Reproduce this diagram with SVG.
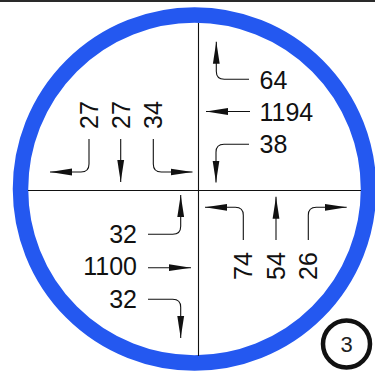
<svg xmlns="http://www.w3.org/2000/svg" width="375" height="372" viewBox="0 0 375 372">
<style>
.lbl{font-family:"Liberation Sans",Arial,sans-serif;font-size:25px;fill:#111}
.arr{fill:none;stroke:#111;stroke-width:1.1}
.axis{stroke:#111;stroke-width:1.1}
</style>
<defs>
<marker id="ah" markerUnits="userSpaceOnUse" markerWidth="23" markerHeight="8" refX="22" refY="4" orient="auto" viewBox="0 0 23 8">
<path d="M0,0.6 L22,4 L0,7.4 z" fill="#111"/>
</marker>
</defs>
<rect x="0" y="0" width="375" height="2" fill="#2a2a2a"/>
<g id="ring">
<circle cx="194.5" cy="189" r="174" fill="none" stroke="#2458f0" stroke-width="15.5"/>
</g>
<g id="axes">
<line class="axis" x1="198.5" y1="23" x2="198.5" y2="356"/>
<line class="axis" x1="28" y1="190.5" x2="361" y2="190.5"/>
</g>
<g id="north-labels">
<text class="lbl" transform="translate(98,129) rotate(-90)">27</text>
<text class="lbl" transform="translate(129.5,129) rotate(-90)">27</text>
<text class="lbl" transform="translate(162,129) rotate(-90)">34</text>
</g>
<g id="east-labels">
<text class="lbl" x="259.5" y="89">64</text>
<text class="lbl" x="259.5" y="121">1194</text>
<text class="lbl" x="259.5" y="153">38</text>
</g>
<g id="west-labels">
<text class="lbl" x="137" y="243" text-anchor="end">32</text>
<text class="lbl" x="137" y="275" text-anchor="end">1100</text>
<text class="lbl" x="137" y="308" text-anchor="end">32</text>
</g>
<g id="south-labels">
<text class="lbl" transform="translate(252,280) rotate(-90)">74</text>
<text class="lbl" transform="translate(284.5,280) rotate(-90)">54</text>
<text class="lbl" transform="translate(317,280) rotate(-90)">26</text>
</g>
<g id="connectors">
<path class="arr" marker-end="url(#ah)" d="M89,139 V164 Q89,172 81,172 H50"/>
<path class="arr" marker-end="url(#ah)" d="M120.7,139 V182"/>
<path class="arr" marker-end="url(#ah)" d="M153.3,139 V164 Q153.3,172 161.3,172 H192.5"/>
<path class="arr" marker-end="url(#ah)" d="M249,79.3 H224.3 Q216.3,79.3 216.3,71.3 V41.7"/>
<path class="arr" marker-end="url(#ah)" d="M250,111.5 H206"/>
<path class="arr" marker-end="url(#ah)" d="M249,144.3 H224 Q216,144.3 216,152.3 V182.5"/>
<path class="arr" marker-end="url(#ah)" d="M148,234.3 H172.7 Q180.7,234.3 180.7,226.3 V195"/>
<path class="arr" marker-end="url(#ah)" d="M148,267.7 H191"/>
<path class="arr" marker-end="url(#ah)" d="M148,299.3 H172.7 Q180.7,299.3 180.7,307.3 V338"/>
<path class="arr" marker-end="url(#ah)" d="M243.3,240 V215.3 Q243.3,207.3 235.3,207.3 H205"/>
<path class="arr" marker-end="url(#ah)" d="M276,240 V196.7"/>
<path class="arr" marker-end="url(#ah)" d="M308.3,240 V215.3 Q308.3,207.3 316.3,207.3 H346.7"/>
</g>
<g id="badge">
<circle cx="346.5" cy="344" r="23.5" fill="#fff" stroke="#111" stroke-width="4.5"/>
<text x="346.5" y="352" text-anchor="middle" font-family="Liberation Sans,Arial,sans-serif" font-size="22" fill="#222">3</text>
</g>
</svg>
